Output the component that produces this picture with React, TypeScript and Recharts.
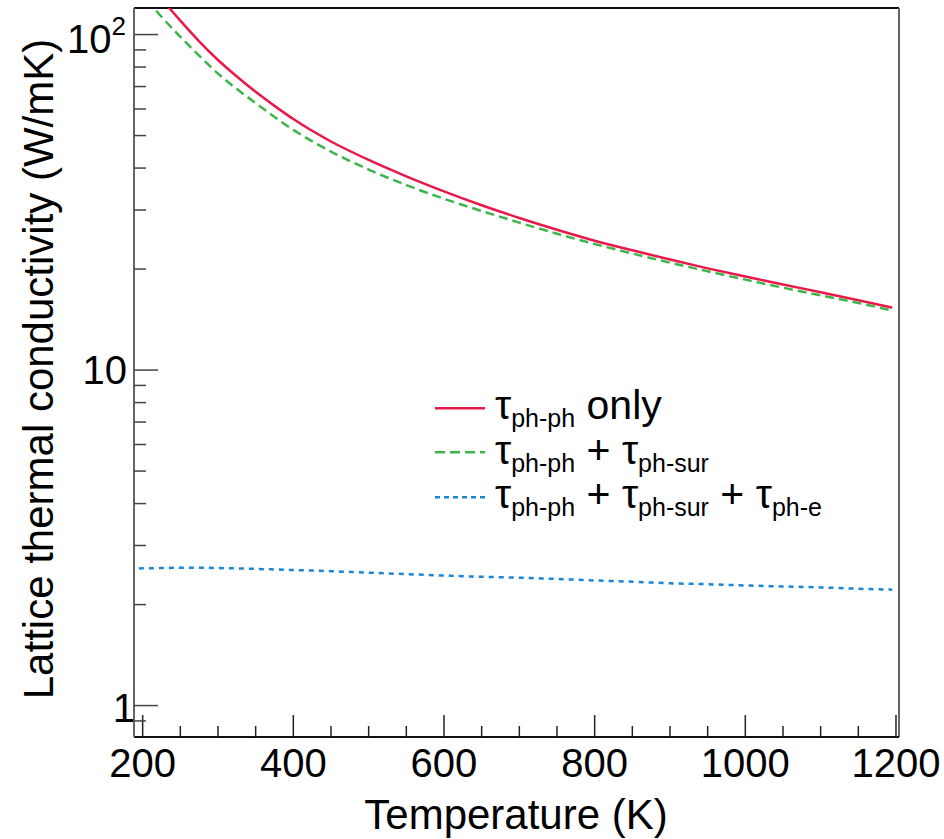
import { LineChart, Line, XAxis, YAxis, ReferenceLine, Legend } from "recharts";

const temperatures = [
  195, 200, 225, 250, 275, 300, 325, 350, 375, 400, 450, 500, 550, 600, 650, 700, 750, 800, 850, 900, 950, 1000,
  1050, 1100, 1150, 1195,
];
// τ_ph-ph only
const kPhPh = [
  158, 152, 128, 110, 95.5, 84, 75, 67.5, 61.3, 56, 48.0, 42.3, 37.8, 34.1, 31.0, 28.4, 26.2, 24.3, 22.75, 21.35,
  20.1, 19.0, 18.0, 17.05, 16.15, 15.35,
];
// τ_ph-ph + τ_ph-sur
const kPhPhSur = [
  137, 132, 113, 98.5, 86.5, 76.5, 68.8, 62.5, 56.8, 52, 44.8, 39.6, 35.6, 32.4, 29.8, 27.5, 25.5, 23.75, 22.25, 20.9,
  19.7, 18.6, 17.6, 16.7, 15.85, 15.05,
];
// τ_ph-ph + τ_ph-sur + τ_ph-e
const kPhPhSurE = [
  2.56, 2.565, 2.57, 2.575, 2.575, 2.57, 2.563, 2.555, 2.545, 2.535, 2.515, 2.49, 2.465, 2.44, 2.42, 2.405, 2.385,
  2.36, 2.34, 2.315, 2.3, 2.28, 2.265, 2.25, 2.23, 2.215,
];

const xTicks = [200, 250, 300, 350, 400, 450, 500, 550, 600, 650, 700, 750, 800, 850, 900, 950, 1000, 1050, 1100, 1150, 1200];
const yTicks = [0.9, 1, 2, 3, 4, 5, 6, 7, 8, 9, 10, 20, 30, 40, 50, 60, 70, 80, 90, 100];

const X_DOMAIN = [188.5, 1204];
const Y_DOMAIN = [0.806, 120];

const FONT = '"Liberation Sans", Arial, Helvetica, sans-serif';
const RED = "#e8194a";
const GREEN = "#3cb64a";
const BLUE = "#1b86d2";

const data = temperatures.map((t, i) => ({
  t,
  phph: kPhPh[i],
  phsur: kPhPhSur[i],
  phe: kPhPhSurE[i],
}));

function XTick({ x, y, payload }: any) {
  const v = payload.value;
  const major = v % 200 === 0;
  return (
    <g>
      <line x1={x} x2={x} y1={y} y2={y - (major ? 22 : 11)} stroke="#222" strokeWidth={1.5} />
      {major && (
        <text x={x} y={y + 40} textAnchor="middle" fontSize={40} fontFamily={FONT} fill="#000">
          {v}
        </text>
      )}
    </g>
  );
}

// label placement per decade (ROOT style)
const yLabelShift: Record<number, [number, number]> = {
  1: [1, 16],
  10: [-7, 13.5],
  100: [-8, 18.5],
};

function YTick({ x, y, payload }: any) {
  const v = payload.value;
  const major = v === 1 || v === 10 || v === 100;
  const shift = yLabelShift[v];
  return (
    <g>
      <line x1={x} x2={x + (major ? 24 : 12)} y1={y} y2={y} stroke="#444" strokeWidth={1.5} />
      {major && (
        <text
          x={x + shift[0]}
          y={y + shift[1]}
          textAnchor="end"
          fontSize={40}
          fontFamily={FONT}
          fill="#000"
        >
          {v === 100 ? "10" : v}
          {v === 100 && (
            <tspan fontSize={26} dy={-18}>
              2
            </tspan>
          )}
        </text>
      )}
    </g>
  );
}

function XTitle() {
  return (
    <text x={516} y={829} textAnchor="middle" fontSize={42} fontFamily={FONT} fill="#000">
      Temperature (K)
    </text>
  );
}

function YTitle() {
  return (
    <text
      x={53}
      y={369}
      transform="rotate(-90 53 369)"
      textAnchor="middle"
      fontSize={42}
      fontFamily={FONT}
      fill="#000"
    >
      Lattice thermal conductivity (W/mK)
    </text>
  );
}

function LegendBox() {
  const sub = (s: string) => (
    <tspan fontSize={25} dy={8}>
      {s}
    </tspan>
  );
  const back = (s: string) => (
    <tspan dy={-8} style={{ whiteSpace: "pre" }}>
      {s}
    </tspan>
  );
  const textProps = { fontSize: 41, fontFamily: FONT, fill: "#000", style: { whiteSpace: "pre" as const } };
  return (
    <svg width={440} height={160} style={{ display: "block" }}>
      <line x1={5} x2={55} y1={38.3} y2={38.3} stroke={RED} strokeWidth={2.5} />
      <text x={65} y={49} {...textProps}>
        τ{sub("ph-ph")}
        {back(" only")}
      </text>
      <line x1={5} x2={55} y1={82.3} y2={82.3} stroke={GREEN} strokeWidth={2.5} strokeDasharray="10 5" />
      <text x={65} y={93.5} {...textProps}>
        τ{sub("ph-ph")}
        {back(" + τ")}
        {sub("ph-sur")}
      </text>
      <line x1={5} x2={55} y1={127.3} y2={127.3} stroke={BLUE} strokeWidth={2.5} strokeDasharray="5 4" />
      <text x={65} y={138} {...textProps}>
        τ{sub("ph-ph")}
        {back(" + τ")}
        {sub("ph-sur")}
        {back(" + τ")}
        {sub("ph-e")}
      </text>
    </svg>
  );
}

export default function App() {
  return (
    <div style={{ position: "absolute", left: 0, top: 0, width: 944, height: 839, background: "#fff" }}>
      <LineChart width={944} height={839} data={data} margin={{ top: 8, right: 45, left: 0, bottom: 0 }}>
        <XAxis
          dataKey="t"
          type="number"
          domain={X_DOMAIN}
          allowDataOverflow
          ticks={xTicks}
          interval={0}
          height={102}
          tickSize={0}
          tickMargin={0}
          tickLine={false}
          tick={<XTick />}
          axisLine={{ stroke: "#111", strokeWidth: 2 }}
          label={XTitle}
        />
        <YAxis
          type="number"
          scale="log"
          domain={Y_DOMAIN}
          allowDataOverflow
          ticks={yTicks}
          interval={0}
          width={134}
          tickSize={0}
          tickMargin={0}
          tickLine={false}
          tick={<YTick />}
          axisLine={{ stroke: "#666", strokeWidth: 2 }}
          label={YTitle}
        />
        <ReferenceLine y={Y_DOMAIN[1]} stroke="#111" strokeWidth={2} />
        <ReferenceLine x={X_DOMAIN[1]} stroke="#666" strokeWidth={2} />
        <Line
          type="monotone"
          dataKey="phph"
          stroke={RED}
          strokeWidth={2.5}
          dot={false}
          isAnimationActive={false}
        />
        <Line
          type="monotone"
          dataKey="phsur"
          stroke={GREEN}
          strokeWidth={2.5}
          strokeDasharray="9 5"
          dot={false}
          isAnimationActive={false}
        />
        <Line
          type="monotone"
          dataKey="phe"
          stroke={BLUE}
          strokeWidth={2.5}
          strokeDasharray="5 5"
          dot={false}
          isAnimationActive={false}
        />
        <Legend
          layout="horizontal"
          verticalAlign="middle"
          align="center"
          content={() => <LegendBox />}
          wrapperStyle={{ left: 430, top: 370, width: 440, height: 160 }}
        />
      </LineChart>
    </div>
  );
}
